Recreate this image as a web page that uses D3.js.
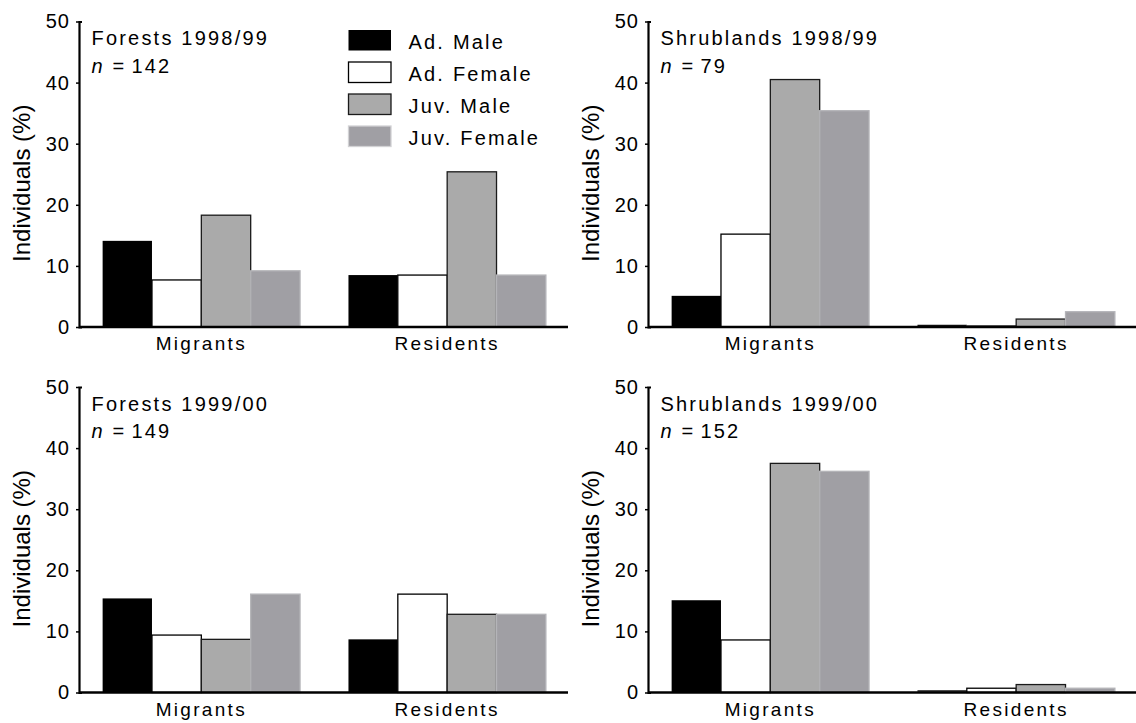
<!DOCTYPE html>
<html>
<head>
<meta charset="utf-8">
<script src="https://cdn.jsdelivr.net/npm/d3@7"></script>
<style>
  html, body { margin: 0; padding: 0; background: #fff; }
  svg { display: block; font-family: "Liberation Sans", Arial, Helvetica, sans-serif; }
</style>
</head>
<body>
<svg id="chart" width="1136" height="723"></svg>
<script>
// Movement status by age/sex class, per habitat and winter
const categories = ["Migrants", "Residents"];
const classes = ["Ad. Male", "Ad. Female", "Juv. Male", "Juv. Female"];
const yTicks = [0, 10, 20, 30, 40, 50];
const panelTitles = ["Forests 1998/99", "Shrublands 1998/99", "Forests 1999/00", "Shrublands 1999/00"];
const sampleSizes = [142, 79, 149, 152];

// Percent of individuals: one row per category, one value per class
const forests9899 = [[14.1, 7.7, 18.3, 9.2], [8.5, 8.5, 25.4, 8.5]];
const shrublands9899 = [[5.1, 15.2, 40.5, 35.4], [0, 0, 1.3, 2.5]];
const forests9900 = [[15.4, 9.4, 8.7, 16.1], [8.7, 16.1, 12.8, 12.8]];
const shrublands9900 = [[15.1, 8.6, 37.5, 36.2], [0, 0.7, 1.3, 0.7]];
const panelValues = [forests9899, shrublands9899, forests9900, shrublands9900];

const fills = ["#000000", "#ffffff", "#aaaaaa", "#a09fa4"];
const strokes = ["#000000", "#000000", "#1a1a1a", "#b4b4b8"];
const legendStrokes = ["#000000", "#000000", "#1a1a1a", "#d2d2d4"];

const svg = d3.select("#chart");

const axisW = 489, axisH = 305.5;
const origins = [[79, 21.5], [648, 21.5], [79, 387], [648, 387]];

panelValues.forEach((vals, p) => {
  const [ox, oy] = origins[p];
  const g = svg.append("g").attr("transform", `translate(${ox},${oy})`);

  const x = d3.scaleBand().domain(categories).range([1.5, axisW]).paddingInner(0.197).paddingOuter(0.09);
  const xs = d3.scaleBand().domain(classes).range([0, x.bandwidth()]).padding(0);
  const y = d3.scaleLinear().domain([0, 50]).range([axisH, 0]);

  // bars, drawn class by class so later fills sit over neighbours' edges
  classes.forEach((cls, k) => {
    const data = categories.map((c, ci) => ({ c, v: vals[ci][k] }));
    g.selectAll(null).data(data.filter(d => d.v > 0)).join("rect")
      .attr("x", d => x(d.c) + xs(cls))
      .attr("y", d => y(d.v))
      .attr("width", xs.bandwidth())
      .attr("height", d => y(0) - y(d.v))
      .attr("fill", fills[k])
      .attr("stroke", strokes[k])
      .attr("stroke-width", k === 0 ? 0 : 1.3);
    // empty classes leave only their outline on the baseline
    g.selectAll(null).data(data.filter(d => d.v === 0)).join("line")
      .attr("x1", d => x(d.c) + xs(cls))
      .attr("x2", d => x(d.c) + xs(cls) + xs.bandwidth())
      .attr("y1", d => y(d.v) - 1.5)
      .attr("y2", d => y(d.v) - 1.5)
      .attr("stroke", k === 0 ? "#111" : "#666")
      .attr("stroke-width", k === 0 ? 1.4 : 1);
  });

  // y axis
  const yAxis = g.append("g")
    .call(d3.axisLeft(y).tickValues(yTicks).tickSizeInner(3).tickSizeOuter(-3).tickPadding(6));
  yAxis.select(".domain").attr("stroke-width", 2.2);
  yAxis.selectAll(".tick line").attr("stroke-width", 1.5);
  yAxis.selectAll(".tick text")
    .attr("font-size", 20).attr("fill", "#000")
    .attr("font-family", "Liberation Sans, Arial, sans-serif")
    .attr("letter-spacing", 1);

  // x axis baseline
  g.append("line")
    .attr("x1", 0).attr("x2", axisW)
    .attr("y1", y(0)).attr("y2", y(0))
    .attr("stroke", "#000").attr("stroke-width", 2.6);

  g.selectAll(null).data(categories).join("text")
    .attr("x", d => x(d) + x.bandwidth() / 2)
    .attr("y", y(0) + 23)
    .attr("text-anchor", "middle")
    .attr("font-size", 19)
    .attr("letter-spacing", 2.3)
    .text(d => d);

  // y label
  g.append("text")
    .attr("transform", `translate(${-49},${axisH / 2 + 9}) rotate(-90)`)
    .attr("text-anchor", "middle")
    .attr("font-size", 24)
    .text("Individuals (%)");

  // panel heading
  g.append("text")
    .attr("x", 12.5).attr("y", 23.5)
    .attr("font-size", 20).attr("letter-spacing", 2.2)
    .text(panelTitles[p]);
  const nText = g.append("text")
    .attr("x", 12.5).attr("y", 51)
    .attr("font-size", 20).attr("letter-spacing", 2.2);
  nText.append("tspan").attr("font-style", "italic").text("n");
  nText.append("tspan").text(" =");
  nText.append("tspan").attr("dx", 5).text(sampleSizes[p]);

  // legend in the first panel
  if (p === 0) {
    const lg = g.append("g").attr("transform", "translate(269.5,8.5)");
    const rows = lg.selectAll(null).data(classes).join("g")
      .attr("transform", (d, i) => `translate(0,${i * 32})`);
    rows.append("rect")
      .attr("x", 0).attr("y", 0).attr("width", 42.5).attr("height", 20.5)
      .attr("fill", (d, i) => fills[i])
      .attr("stroke", (d, i) => legendStrokes[i])
      .attr("stroke-width", (d, i) => i === 0 ? 0 : 1.3);
    rows.append("text")
      .attr("x", 60).attr("y", 18.5)
      .attr("font-size", 20).attr("letter-spacing", 2.2)
      .text(d => d);
  }
});
</script>
</body>
</html>
